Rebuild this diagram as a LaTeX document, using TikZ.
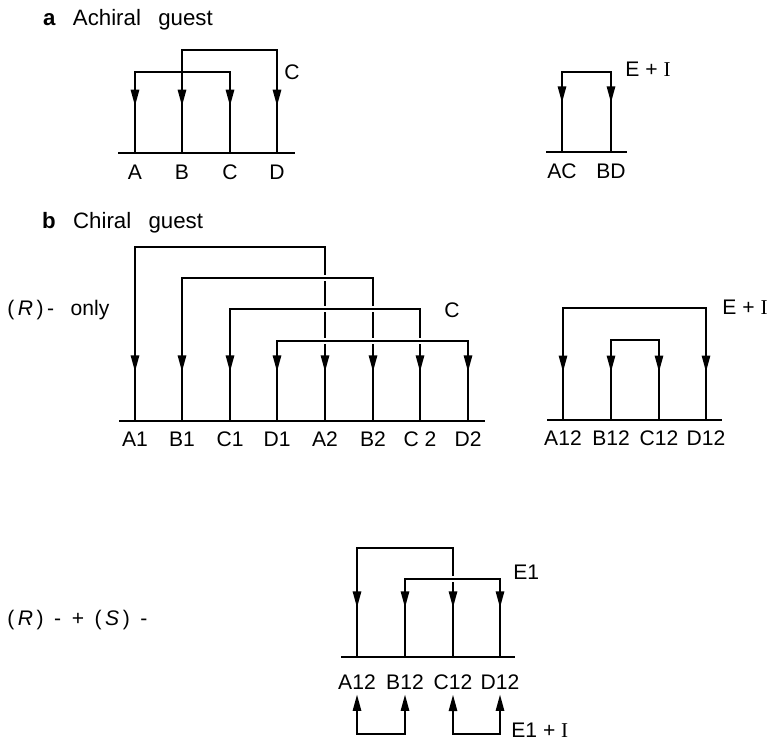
\documentclass[tikz,border=0pt]{standalone}
\usepackage{fontspec}
\setmainfont{Liberation Sans}
\newfontfamily\serifI{Liberation Serif}
\usetikzlibrary{positioning,arrows.meta,decorations.markings}
\tikzset{
  gs-bond/.style={line width=1.8pt},
  gs-base/.style={line width=1.9pt},
  gs-legs/.style={gs-bond, postaction={decorate},
    decoration={markings,
      mark=at position #1 with {\arrowreversed{>}},
      mark=at position -#1 with {\arrow{>}}}},
  gs-legs/.default=41pt,
  gs-gap/.style={preaction={draw=white, line width=5.5pt}},
  gs-lbl/.style={font=\fontsize{18}{21}\selectfont, inner sep=1pt},
  gs-note/.style={gs-lbl, anchor=west},
  gs-title/.style={font=\fontsize{19}{22}\selectfont, anchor=west, inner sep=0pt}
}

\begin{document}
\begin{tikzpicture}[x=0.03cm, y=-0.03cm, >={Triangle[length=14pt,width=7pt]}]
\path[fill=white, use as bounding box] (0,0) rectangle (767,744);

% a  Achiral guest
\node[gs-title] (ttla) at (43,20) {{\bfseries a}\enspace\ Achiral\enspace\ guest};

\coordinate (aL) at (118,153);
\coordinate (aR) at (295,153);
\coordinate (fA) at (135,153);
\coordinate (fB) at (182,153);
\coordinate (fC) at (230,153);
\coordinate (fD) at (277,153);
\node[gs-lbl, below=9pt of fA] (lA) {A};
\node[gs-lbl, below=9pt of fB] (lB) {B};
\node[gs-lbl, below=9pt of fC] (lC) {C};
\node[gs-lbl, below=9pt of fD] (lD) {D};

\draw[gs-legs=40pt] (fA) -- (fA |- 0,72) -| (fC);
\draw[gs-legs=40pt] (fB) -- (fB |- 0,50) -| (fD);
\draw[gs-base] (aL) -- (aR);
\node[gs-lbl] (ca) at (292,72) {C};

% a, host pairs
\coordinate (a2L) at (546,152);
\coordinate (a2R) at (627,152);
\coordinate (fAC) at (562,152);
\coordinate (fBD) at (611,152);
\node[gs-lbl, below=9pt of fAC] (lAC) {AC};
\node[gs-lbl, below=9pt of fBD] (lBD) {BD};

\draw[gs-legs=42pt] (fAC) -- (fAC |- 0,72) -| (fBD);
\draw[gs-base] (a2L) -- (a2R);
\node[gs-note] (eia) at (624,69) {E + {\serifI I}};

% b  Chiral guest
\node[gs-title] (ttlb) at (42,223) {{\bfseries b}\enspace\ Chiral\enspace\ guest};
\node[gs-note] (ronly) at (6,310) {(\,\textit{R}\,)\,-\enspace\ only};

\coordinate (bL) at (119,421);
\coordinate (bR) at (485,421);
\coordinate (fA1) at (135,421);
\coordinate (fB1) at (182,421);
\coordinate (fC1) at (230,421);
\coordinate (fD1) at (277,421);
\coordinate (fA2) at (325,421);
\coordinate (fB2) at (373,421);
\coordinate (fC2) at (420,421);
\coordinate (fD2) at (468,421);
\node[gs-lbl, below=8pt of fA1] (lA1) {A1};
\node[gs-lbl, below=8pt of fB1] (lB1) {B1};
\node[gs-lbl, below=8pt of fC1] (lC1) {C1};
\node[gs-lbl, below=8pt of fD1] (lD1) {D1};
\node[gs-lbl, below=8pt of fA2] (lA2) {A2};
\node[gs-lbl, below=8pt of fB2] (lB2) {B2};
\node[gs-lbl, below=8pt of fC2] (lC2) {C 2};
\node[gs-lbl, below=8pt of fD2] (lD2) {D2};

\draw[gs-legs=42pt] (fA1) -- (fA1 |- 0,247) -| (fA2);
\draw[gs-gap, gs-legs=42pt] (fB1) -- (fB1 |- 0,278) -| (fB2);
\draw[gs-gap, gs-legs=42pt] (fC1) -- (fC1 |- 0,309) -| (fC2);
\draw[gs-gap, gs-legs=42pt] (fD1) -- (fD1 |- 0,341) -| (fD2);
\draw[gs-base] (bL) -- (bR);
\node[gs-lbl] (cb) at (452,310) {C};

% b, host pairs
\coordinate (b2L) at (547,420);
\coordinate (b2R) at (722,420);
\coordinate (fA12) at (563,420);
\coordinate (fB12) at (611,420);
\coordinate (fC12) at (659,420);
\coordinate (fD12) at (706,420);
\node[gs-lbl, below=8pt of fA12] (lA12) {A12};
\node[gs-lbl, below=8pt of fB12] (lB12) {B12};
\node[gs-lbl, below=8pt of fC12] (lC12) {C12};
\node[gs-lbl, below=8pt of fD12] (lD12) {D12};

\draw[gs-legs=41pt] (fA12) -- (fA12 |- 0,308) -| (fD12);
\draw[gs-legs=41pt] (fB12) -- (fB12 |- 0,340) -| (fC12);
\draw[gs-base] (b2L) -- (b2R);
\node[gs-note] (eib) at (721,307) {E + {\serifI I}};

% (R)- + (S)-
\node[gs-note] (rs) at (6,620)
  {(\,\textit{R}\,)\enspace-\enspace+\enspace(\,\textit{S}\,)\enspace-};

\coordinate (cL) at (341,657);
\coordinate (cR) at (515,657);
\coordinate (gA12) at (357,657);
\coordinate (gB12) at (405,657);
\coordinate (gC12) at (453,657);
\coordinate (gD12) at (500,657);
\node[gs-lbl, below=14pt of gA12] (mA12) {A12};
\node[gs-lbl, below=14pt of gB12] (mB12) {B12};
\node[gs-lbl, below=14pt of gC12] (mC12) {C12};
\node[gs-lbl, below=14pt of gD12] (mD12) {D12};

\draw[gs-legs=42pt] (gA12) -- (gA12 |- 0,548) -| (gC12);
\draw[gs-gap, gs-legs=42pt] (gB12) -- (gB12 |- 0,579) -| (gD12);
\draw[gs-base] (cL) -- (cR);
\node[gs-note] (e1) at (512,572) {E1};

\draw[gs-bond, <->, shorten <=3pt, shorten >=3pt]
  (mA12.south) |- (mA12 |- 0,734) -| (mB12.south);
\draw[gs-bond, <->, shorten <=3pt, shorten >=3pt]
  (mC12.south) |- (mC12 |- 0,734) -| (mD12.south);
\node[gs-note] (e1i) at (510,730) {E1 + {\serifI I}};
\end{tikzpicture}
\end{document}
